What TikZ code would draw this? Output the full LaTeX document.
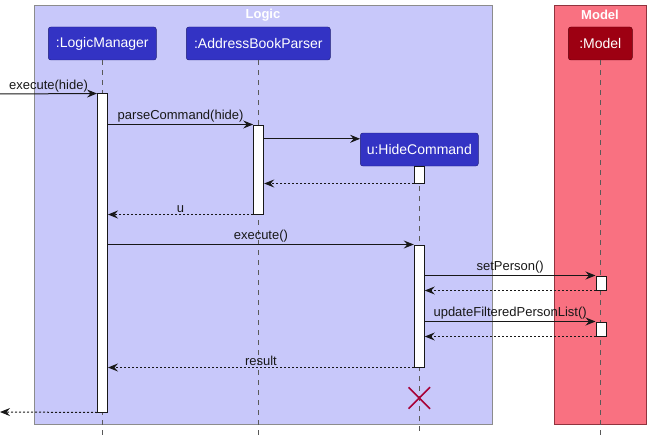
\documentclass[tikz,border=0pt]{standalone}
\usepackage{fontspec}
\setmainfont{Liberation Sans}
\usepackage{tikz}
\usetikzlibrary{arrows.meta,shapes.misc}

\definecolor{logicbg}{HTML}{C8C8FA}
\definecolor{logicfg}{HTML}{3333C4}
\definecolor{modelbg}{HTML}{F97181}
\definecolor{modelfg}{HTML}{9D0012}
\definecolor{killred}{HTML}{A80036}
\definecolor{ink}{HTML}{181818}

\begin{document}
\begin{tikzpicture}[x=1pt,y=-1pt,
  part/.style={draw=#1!60!black, fill=#1, rounded corners=2.5pt, text=white,
    minimum height=33pt, inner xsep=2pt, font=\fontsize{14}{16}\selectfont},
  actbar/.style={draw=ink, fill=white, line width=1pt, minimum width=10pt, inner sep=0pt},
  lifeline/.style={draw=gray!70!black, dash pattern=on 5pt off 5pt, line width=0.8pt},
  msg/.style={draw=ink, line width=1pt, -{Stealth[length=10pt,width=8pt,inset=3.5pt]}},
  ret/.style={msg, dash pattern=on 2pt off 2pt},
  lbl/.style={midway, above, inner sep=1.5pt, text=ink, font=\fontsize{13}{15}\selectfont},
  boxtitle/.style={text=white, font=\fontsize{13}{15}\selectfont\bfseries}]
\useasboundingbox (0,0) rectangle (651,436);

% boxes
\draw[draw=gray!90, fill=logicbg, line width=1pt] (34,6) rectangle (492,424);
\draw[draw=modelfg!60!gray, fill=modelbg, line width=1pt] (554,6) rectangle (646,424);
\node[boxtitle] (logicT) at (263,15) {Logic};
\node[boxtitle] (modelT) at (600,15) {Model};

% participants
\node[part=logicfg, minimum width=108pt] (lm) at (102.3,43.5) {:LogicManager};
\node[part=logicfg, minimum width=144pt] (abp) at (258.3,43.5) {:AddressBookParser};
\node[part=modelfg, minimum width=64pt] (model) at (600.3,43.5) {:Model};
\node[part=logicfg, minimum width=118pt] (hc) at (419.3,149.5) {u:HideCommand};

% lifelines
\coordinate (lmEnd) at (102.3,436);
\coordinate (abpEnd) at (258.3,436);
\coordinate (modelEnd) at (600.3,436);
\coordinate (hcEnd) at (419.3,436);
\draw[lifeline] (lm.south) -- (lmEnd);
\draw[lifeline] (abp.south) -- (abpEnd);
\draw[lifeline] (model.south) -- (modelEnd);
\draw[lifeline] (hc.south) -- (hcEnd);

% activations
\node[actbar, minimum height=318pt] (actLM) at (102.5,253) {};
\node[actbar, minimum height=89pt] (actABP) at (258.7,169.5) {};
\node[actbar, minimum height=17pt] (actHC1) at (419.3,174.5) {};
\node[actbar, minimum height=122pt] (actHC2) at (419.3,306) {};
\node[actbar, minimum height=14pt] (actM1) at (601,283) {};
\node[actbar, minimum height=14pt] (actM2) at (601,329) {};

% messages
\coordinate (inStart) at (0,94);
\coordinate (outEnd) at (0,412);
\path ([yshift=-6pt]hc.north west) coordinate (mkHC);
\draw[msg] (inStart) -- (actLM.north west) node[lbl] {execute(hide)};
\draw[msg] (actLM.east |- actABP.north) -- (actABP.north west) node[lbl] {parseCommand(hide)};
\draw[msg] (actABP.east |- mkHC) -- (mkHC);
\draw[ret] (actHC1.south west) -- (actABP.east |- actHC1.south);
\draw[ret] (actABP.south west) -- (actLM.east |- actABP.south) node[lbl] {u};
\draw[msg] (actLM.east |- actHC2.north) -- (actHC2.north west) node[lbl] {execute()};
\draw[msg] (actHC2.east |- actM1.north) -- (actM1.north west) node[lbl] {setPerson()};
\draw[ret] (actM1.south west) -- (actHC2.east |- actM1.south);
\draw[msg] (actHC2.east |- actM2.north) -- (actM2.north west) node[lbl] {updateFilteredPersonList()};
\draw[ret] (actM2.south west) -- (actHC2.east |- actM2.south);
\draw[ret] (actHC2.south west) -- (actLM.east |- actHC2.south) node[lbl] {result};
\draw[ret] (actLM.south west) -- (outEnd);

% destroy
\node[cross out, draw=killred, line width=1.5pt, minimum size=20pt, inner sep=0pt] (kill) at (419.3,398) {};
\end{tikzpicture}
\end{document}
